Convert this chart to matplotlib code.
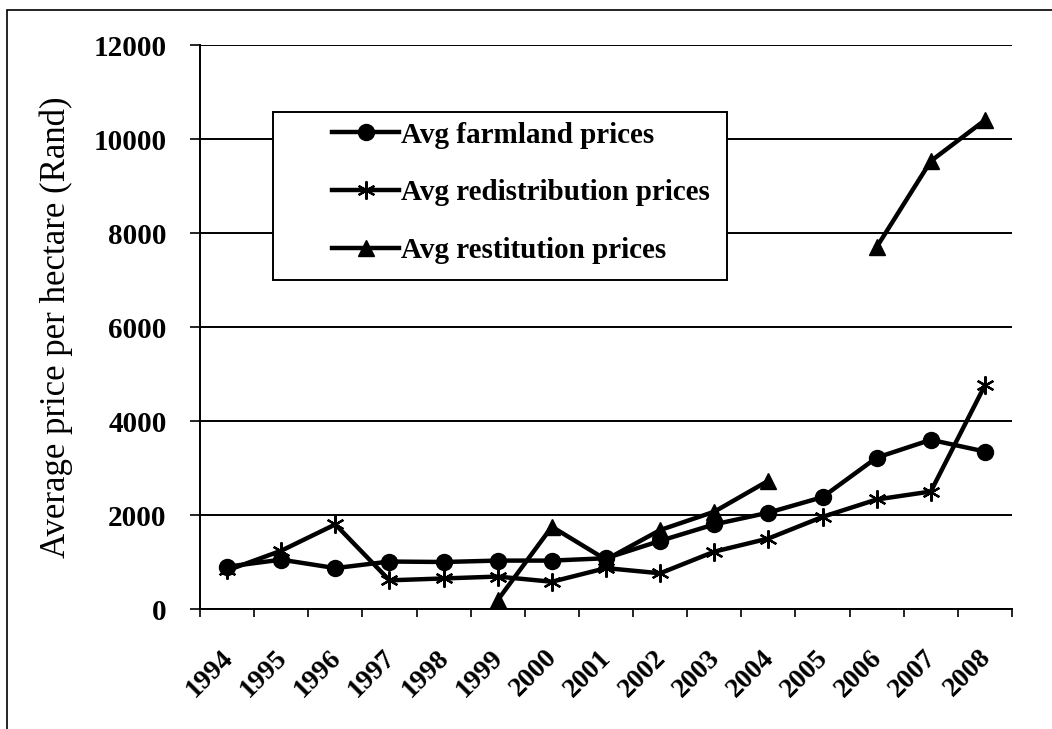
import numpy as np
import matplotlib.pyplot as plt
from matplotlib.patches import Rectangle
from matplotlib.transforms import ScaledTranslation

years = ['1994', '1995', '1996', '1997', '1998', '1999', '2000', '2001',
         '2002', '2003', '2004', '2005', '2006', '2007', '2008']

farmland = [900, 1050, 870, 1010, 1000, 1030, 1030, 1080,
            1450, 1800, 2050, 2380, 3220, 3600, 3350]
redistribution = [820, 1240, 1800, 610, 650, 690, 580, 870,
                  760, 1220, 1500, 1960, 2330, 2500, 4760]
restitution = [np.nan, np.nan, np.nan, np.nan, np.nan, 190, 1750, 1050,
               1680, 2070, 2730, np.nan, 7700, 9530, 10400]

y_ticks = [0, 2000, 4000, 6000, 8000, 10000, 12000]

serif = ['Liberation Serif', 'DejaVu Serif']

fig = plt.figure(figsize=(10.52, 7.29), dpi=100)
ax = fig.add_axes([200/1052, 1 - 609/729, 812/1052, 564/729])

x = np.arange(len(years))
lw = 3.2
ax.plot(x, farmland, color='black', lw=lw, marker='o', ms=11.5,
        label='Avg farmland prices', zorder=3)
ax.plot(x, redistribution, color='black', lw=lw, marker=(6, 2, 0), ms=13,
        mew=1.6, label='Avg redistribution prices', zorder=3)
ax.plot(x, restitution, color='black', lw=lw, marker='^', ms=12,
        label='Avg restitution prices', zorder=3)

ax.set_xlim(-0.5, len(years) - 0.5)
ax.set_ylim(0, 12000)
ax.set_yticks(y_ticks)
ax.set_yticklabels([str(v) for v in y_ticks], family=serif,
                   fontweight='bold', fontsize=21)
ax.tick_params(axis='y', length=7, width=1.2, pad=17, direction='out')

# category ticks sit between the years; year labels are slanted text
ax.set_xticks(np.arange(len(years) + 1) - 0.5)
ax.set_xticklabels([])
ax.tick_params(axis='x', length=6, width=1.2, direction='out')
shift = ScaledTranslation(-7/100, -36/100, fig.dpi_scale_trans)
for i, yr in enumerate(years):
    ax.text(i, 0, yr, transform=ax.get_xaxis_transform() + shift,
            family=serif, fontweight='bold', fontsize=20, rotation=45,
            ha='right', va='top', rotation_mode='anchor')

ax.grid(axis='y', color='black', lw=1.4, zorder=0)
for s in ['top', 'right']:
    ax.spines[s].set_visible(False)
for s in ['left', 'bottom']:
    ax.spines[s].set_linewidth(1.4)

ax.set_ylabel('Average price per hectare (Rand)', family=serif,
              fontsize=25, labelpad=15)

# legend box drawn separately so the entries can sit well inside it
ax.add_patch(Rectangle((0.0899, 0.583), 0.559, 0.298, transform=ax.transAxes,
                       facecolor='white', edgecolor='black', lw=1.4,
                       zorder=4))
leg = ax.legend(loc='upper left', bbox_to_anchor=(0.1626, 0.864),
                prop={'family': serif, 'size': 21, 'weight': 'bold'},
                frameon=False, handlelength=2.3, handletextpad=0.05,
                borderpad=0, labelspacing=1.05, borderaxespad=0)
leg.set_zorder(5)

# thin frame around the whole figure
fig.patches.append(Rectangle((7/1052, -0.05), 1.2, 1.05 - 10/729,
                             transform=fig.transFigure,
                             fill=False, edgecolor='black', lw=1.2))

fig.savefig('out.png', dpi=100)
